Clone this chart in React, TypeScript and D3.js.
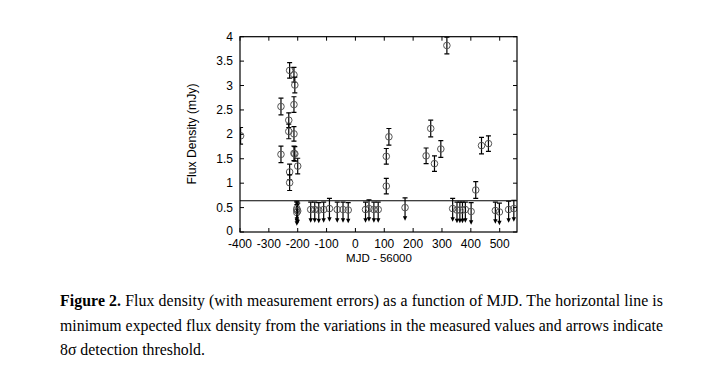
import React from "react";
import * as d3 from "d3";

// Detections (MJD-56000, flux mJy, error)
const detX = [-398, -258, -258, -231, -231, -228, -228, -228, -213, -213, -213, -213, -210, -210, -200, 107, 107, 116, 245, 261, 274, 296, 317, 417, 437, 461];
const detY = [1.97, 2.57, 1.59, 2.29, 2.06, 3.31, 1.23, 1.01, 3.22, 2.61, 2.01, 1.61, 3.01, 1.60, 1.35, 1.55, 0.94, 1.95, 1.56, 2.12, 1.40, 1.70, 3.82, 0.86, 1.77, 1.81];
const detErr = [0.17, 0.17, 0.17, 0.15, 0.15, 0.16, 0.16, 0.16, 0.15, 0.16, 0.15, 0.15, 0.16, 0.15, 0.16, 0.16, 0.16, 0.17, 0.16, 0.17, 0.16, 0.17, 0.17, 0.17, 0.17, 0.16];

// Upper limits (arrows)
const limX = [-203, -203, -203, -200, -155, -141, -127, -110, -90, -63, -43, -25, 35, 47, 64, 79, 172, 337, 352, 362, 371, 381, 401, 485, 499, 531, 549];
const limY = [0.45, 0.40, 0.48, 0.43, 0.46, 0.46, 0.45, 0.46, 0.48, 0.46, 0.46, 0.45, 0.46, 0.48, 0.46, 0.46, 0.50, 0.48, 0.45, 0.45, 0.45, 0.46, 0.42, 0.44, 0.41, 0.46, 0.48];
const limErr = [0.16, 0.16, 0.15, 0.16, 0.15, 0.15, 0.15, 0.15, 0.21, 0.15, 0.15, 0.15, 0.15, 0.18, 0.15, 0.15, 0.20, 0.21, 0.16, 0.16, 0.16, 0.15, 0.18, 0.17, 0.18, 0.17, 0.17];
const arrowLen = 0.27;

const threshold = 0.64;

const xTicks = [-400, -300, -200, -100, 0, 100, 200, 300, 400, 500];
const yTicks = [0, 0.5, 1, 1.5, 2, 2.5, 3, 3.5, 4];

const xLabel = "MJD - 56000";
const yLabel = "Flux Density (mJy)";
const captionBold = "Figure 2.";
const captionLines = [
  " Flux density (with measurement errors) as a function of MJD. The horizontal line is",
  "minimum expected flux density from the variations in the measured values and arrows indicate",
  "8\u03C3 detection threshold.",
];

export default function App() {
  const W = 727, H = 386;
  const left = 240, right = 517, top = 36.7, bottom = 232;
  const x = d3.scaleLinear().domain([-400, 560]).range([left, right]);
  const y = d3.scaleLinear().domain([0, 4]).range([bottom, top]);
  const sans = "'Liberation Sans', Arial, sans-serif";
  const serif = "'Liberation Serif', 'Times New Roman', serif";
  const tick = 4;
  const cap = 2.5;
  const r = 3.3;
  const capX = 60;
  const capW = 603;

  return (
    <svg width={W} height={H} style={{ position: "absolute", left: 0, top: 0, background: "#fff" }}>
      <defs>
        <clipPath id="plot">
          <rect x={left} y={top} width={right - left} height={bottom - top} />
        </clipPath>
      </defs>
      <rect width={W} height={H} fill="#fff" />
      {xTicks.map((t) => (
        <g key={"xt" + t}>
          <line x1={x(t)} x2={x(t)} y1={bottom} y2={bottom - tick} stroke="#000" />
          <line x1={x(t)} x2={x(t)} y1={top} y2={top + tick} stroke="#000" />
          <text x={x(t)} y={247.5} fontSize={12} fontFamily={sans} textAnchor="middle">{t}</text>
        </g>
      ))}
      {yTicks.map((t) => (
        <g key={"yt" + t}>
          <line x1={left} x2={left + tick} y1={y(t)} y2={y(t)} stroke="#000" />
          <line x1={right} x2={right - tick} y1={y(t)} y2={y(t)} stroke="#000" />
          <text x={233} y={y(t) + (t === 0 ? 3 : 4)} fontSize={12} fontFamily={sans} textAnchor="end">{t}</text>
        </g>
      ))}
      <g clipPath="url(#plot)">
        <line x1={left} x2={right} y1={y(threshold)} y2={y(threshold)} stroke="#000" strokeWidth={1.2} />
        {detX.map((d, i) => {
          const cx = x(d), cy = y(detY[i]);
          const y1 = y(detY[i] + detErr[i]), y2 = y(detY[i] - detErr[i]);
          return (
            <g key={"d" + i}>
              <line x1={cx} x2={cx} y1={y1} y2={y2} stroke="#000" strokeWidth={1.2} />
              <line x1={cx - cap} x2={cx + cap} y1={y1} y2={y1} stroke="#000" strokeWidth={1.2} />
              <line x1={cx - cap} x2={cx + cap} y1={y2} y2={y2} stroke="#000" strokeWidth={1.2} />
              <circle cx={cx} cy={cy} r={r} fill="none" stroke="#555" strokeWidth={1} />
            </g>
          );
        })}
        {limX.map((d, i) => {
          const cx = x(d), cy = y(limY[i]);
          const y1 = y(limY[i] + limErr[i]);
          const tip = y(limY[i] - arrowLen);
          return (
            <g key={"l" + i}>
              <line x1={cx} x2={cx} y1={y1} y2={tip - 3} stroke="#000" strokeWidth={1.2} />
              <line x1={cx - cap} x2={cx + cap} y1={y1} y2={y1} stroke="#000" strokeWidth={1.2} />
              <path d={`M${cx - 2.2},${tip - 4.5} L${cx + 2.2},${tip - 4.5} L${cx},${tip} Z`} fill="#000" />
              <circle cx={cx} cy={cy} r={r} fill="none" stroke="#555" strokeWidth={1} />
            </g>
          );
        })}
      </g>
      <rect x={left} y={top} width={right - left} height={bottom - top} fill="none" stroke="#000" strokeWidth={1.2} />
      <text x={379} y={262} fontSize={11.5} fontFamily={sans} textAnchor="middle">{xLabel}</text>
      <text transform={`translate(196,134) rotate(-90)`} fontSize={12.2} fontFamily={sans} textAnchor="middle">{yLabel}</text>
      <text x={capX} y={306} fontSize={15.8} fontFamily={serif} textLength={capW} lengthAdjust="spacing">
        <tspan fontWeight="bold">{captionBold}</tspan>
        <tspan>{captionLines[0]}</tspan>
      </text>
      <text x={capX} y={331} fontSize={15.8} fontFamily={serif} textLength={capW} lengthAdjust="spacing">{captionLines[1]}</text>
      <text x={capX} y={355} fontSize={15.8} fontFamily={serif}>{captionLines[2]}</text>
    </svg>
  );
}
